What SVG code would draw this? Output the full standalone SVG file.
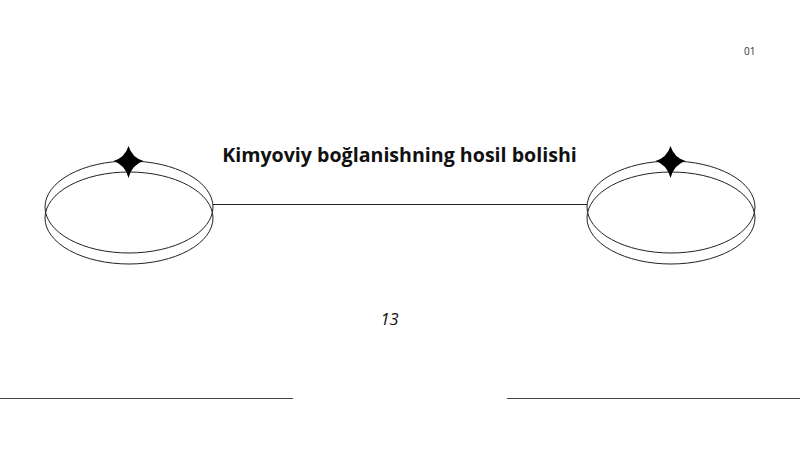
<svg xmlns="http://www.w3.org/2000/svg" width="800" height="450" viewBox="0 0 800 450">
<defs>
<style>
.ring{fill:none;stroke:#222;stroke-width:1}
.star{fill:#000}
.title{font-family:"Open Sans","Noto Sans",sans-serif;font-weight:700;font-size:19.6px;fill:#111}
.num{font-family:"Open Sans","Noto Sans",sans-serif;font-style:italic;font-size:16.5px;fill:#111}
.page{font-family:"Open Sans","Noto Sans",sans-serif;font-size:10px;fill:#333}
.rule{stroke:#444;stroke-width:1.2}
.conn{stroke:#222;stroke-width:1;fill:none}
</style>
<path id="starShape" d="M0,-15 Q3.5,-3.5 15,0 Q3.5,3.5 0,17 Q-3.5,3.5 -15,0 Q-3.5,-3.5 0,-15 Z"/>
</defs>
<rect width="800" height="450" fill="#fff"/>
<g id="connectors">
<line class="conn" x1="213" y1="204.5" x2="587" y2="204.5"/>
</g>
<g id="node-left">
<ellipse class="ring" cx="129" cy="207" rx="84" ry="46"/>
<ellipse class="ring" cx="129" cy="218" rx="84" ry="46"/>
<use href="#starShape" class="star" x="128.5" y="161"/>
</g>
<g id="node-right">
<ellipse class="ring" cx="671" cy="207" rx="84" ry="46"/>
<ellipse class="ring" cx="671" cy="218" rx="84" ry="46"/>
<use href="#starShape" class="star" x="670.5" y="161"/>
</g>
<g id="title">
<text class="title" x="399.5" y="162" text-anchor="middle">Kimyoviy boğlanishning hosil bolishi</text>
</g>
<text class="num" x="389.5" y="324.5" text-anchor="middle">13</text>
<text class="page" x="749.7" y="54.5" text-anchor="middle">01</text>
<line class="rule" x1="0" y1="398.5" x2="293" y2="398.5"/>
<line class="rule" x1="507" y1="398.5" x2="800" y2="398.5"/>
</svg>
